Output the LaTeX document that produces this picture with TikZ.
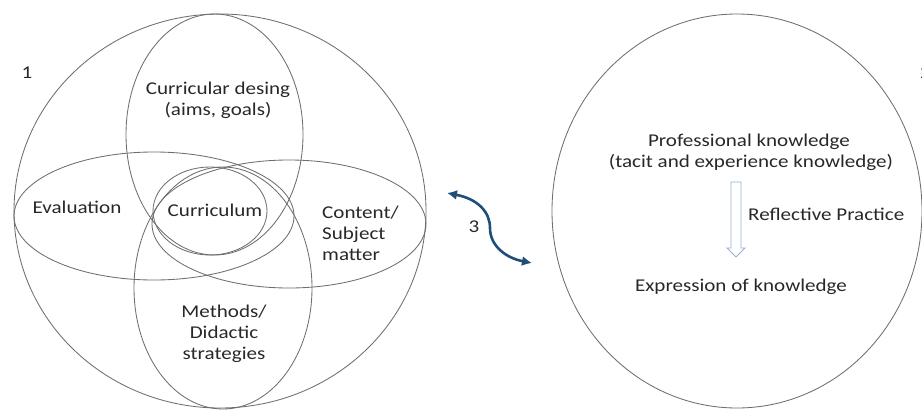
\documentclass[tikz,border=0pt]{standalone}
\usepackage{fontspec}
\setmainfont{Carlito}[FakeStretch=1.17]
\usetikzlibrary{arrows.meta}
\definecolor{linegray}{RGB}{110,110,110}
\definecolor{txt}{RGB}{40,40,40}
\definecolor{arrowblue}{RGB}{31,78,121}
\definecolor{hollowblue}{RGB}{150,175,210}
\begin{document}
\begin{tikzpicture}[x=1pt,y=-1pt,
  lbl/.style={font=\fontsize{18}{21}\selectfont, text=txt, inner sep=0pt, anchor=base},
  lblw/.style={lbl, anchor=base west},
  ring/.style={draw=linegray, line width=0.85pt}]
\useasboundingbox (0,0) rectangle (922,410);
\clip (0,0) rectangle (922,410);
% left composite
\draw[ring] (220,211) ellipse [x radius=206, y radius=197];
\draw[ring] (214.5,134.5) ellipse [x radius=88.5, y radius=120.5];
\draw[ring] (154,216) ellipse [x radius=140, y radius=64];
\draw[ring] (289,224) ellipse [x radius=137, y radius=64];
\draw[ring] (223,288) ellipse [x radius=89, y radius=121];
\draw[ring] (210,211) ellipse [x radius=57, y radius=44];
% right circle
\draw[ring] (737,211) ellipse [x radius=185, y radius=197];

\node[lbl] (n1) at (27,78) {1};
\node[lblw] (n2) at (920,78) {2};
\node[lbl] (cd1) at (218,94) {Curricular desing};
\node[lbl] (cd2) at (218,115) {(aims, goals)};
\node[lbl] (ev) at (77,213) {Evaluation};
\node[lbl] (cu) at (215,216) {Curriculum};
\node[lblw] (ct1) at (322,218) {Content/};
\node[lblw] (ct2) at (322,239) {Subject};
\node[lblw] (ct3) at (322,260) {matter};
\node[lbl] (me1) at (224,317) {Methods/};
\node[lbl] (me2) at (224,338) {Didactic};
\node[lbl] (me3) at (224,359) {strategies};

\node[lbl] (pk1) at (749,146) {Professional knowledge};
\node[lbl] (pk2) at (751,167) {(tacit and experience knowledge)};
\node[lblw] (rp) at (748,220) {Reflective Practice};
\node[lbl] (ex) at (741,291) {Expression of knowledge};
\node[lbl] (n3) at (474,232) {3};

% hollow arrow
\draw[draw=hollowblue, fill=white, line width=0.8pt, line join=miter]
  (731,182) -- (741,182) -- (741,248) -- (745,248) -- (736,257) -- (727,248) -- (731,248) -- cycle;

% double curved arrow
\coordinate (a3s) at (447,193);
\coordinate (a3e) at (532,263);
\draw[arrowblue, line width=2.6pt, {Latex[length=10pt,width=10pt]}-{Latex[length=10pt,width=10pt]}]
  (a3s) .. controls (478,199) and (490,212) .. (490,228) .. controls (490,246) and (506,258) .. (a3e);
\end{tikzpicture}
\end{document}
